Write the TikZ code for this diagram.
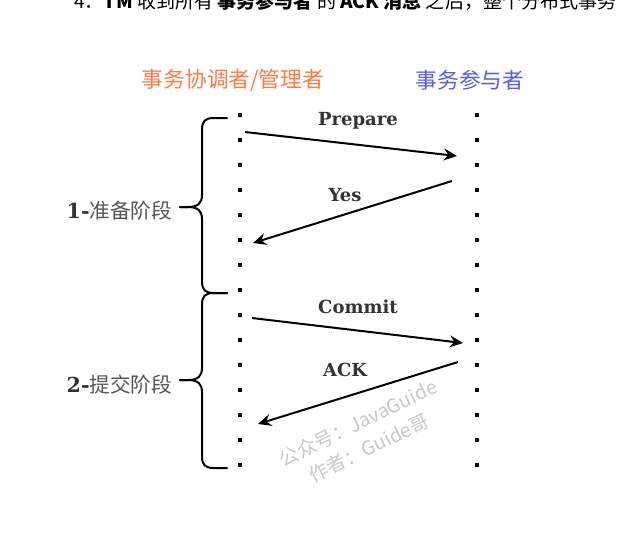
\documentclass[tikz,border=0pt]{standalone}
\usepackage{fontspec}
\setmainfont{DejaVu Serif}
\newfontfamily\cjk{Noto Sans CJK SC}
\usetikzlibrary{arrows.meta}

\definecolor{tmcolor}{HTML}{FF7A45}
\definecolor{rmcolor}{HTML}{5A5AF5}
\definecolor{ink}{HTML}{333333}
\definecolor{cjkgray}{HTML}{555555}
\definecolor{markgray}{HTML}{C8C8C8}

\tikzset{
  lifeline/.style={line width=3pt, dash pattern=on 3pt off 15.75pt},
  msg/.style={line width=1.5pt, -{Stealth[length=10pt,width=9pt,inset=3.5pt]}},
  msglabel/.style={font=\fontsize{13.5}{16}\selectfont\bfseries, text=ink},
  role/.style={font=\cjk\fontsize{16.3}{19}\selectfont},
  phase/.style={anchor=east, font=\fontsize{15.5}{18}\selectfont, text=ink},
  curly/.style={line width=1.5pt, line cap=round},
  watermark/.style={font=\cjk\fontsize{14.5}{17}\selectfont, text=markgray, rotate=26}
}

\begin{document}
\begin{tikzpicture}[x=0.75pt, y=-0.75pt]
        \useasboundingbox (0,0) rectangle (635,537);
        \clip (0,0) rectangle (635,537);
        % cut-off line of the page text above the figure
        \node[anchor=base west, inner sep=0pt, font=\cjk\fontsize{14.3}{16}\selectfont] (intro) at (74,8)
          {4．\textbf{TM} 收到所有 \textbf{事务参与者} 的 \textbf{ACK 消息} 之后，整个分布式事务};
        % roles
        \node[role, text=tmcolor] (tm) at (233,80) {事务协调者/管理者};
        \node[role, text=rmcolor] (rm) at (470,80) {事务参与者};
        % lifelines
        \coordinate (tmtop) at (240,113);
        \coordinate (tmbot) at (240,467);
        \coordinate (rmtop) at (477,113);
        \coordinate (rmbot) at (477,467);
        \draw[lifeline] (tmtop)--(tmbot);
        \draw[lifeline] (rmtop)--(rmbot);
        % messages
        \coordinate (prepS) at (245,132);
        \coordinate (prepE) at (457,156);
        \coordinate (yesS) at (452,181);
        \coordinate (yesE) at (253,243);
        \coordinate (comS) at (252,318);
        \coordinate (comE) at (463,343);
        \coordinate (ackS) at (458,362);
        \coordinate (ackE) at (258,424);
        \draw[msg](prepS)--(prepE);
        \draw[msg](yesS)--(yesE);
        \draw[msg](comS)--(comE);
        \draw[msg](ackS)--(ackE);
        \node[msglabel] (prepare) at (358,121) {Prepare};
        \node[msglabel] (yes) at (345,195) {Yes};
        \node[msglabel] (commit) at (358,307) {Commit};
        \node[msglabel] (ack) at (345,370) {ACK};
        % phase braces
        \draw[curly](227,118)--(214,118) .. controls (205,118) and (202,121) .. (202,130)--(202,195)
          .. controls (202,203) and (198,207) .. (188,207)--(180,207);
        \draw[curly](180,207)--(188,207) .. controls (198,207) and (202,211) .. (202,219)--(202,281)
          .. controls (202,290) and (205,293) .. (214,293)--(227,293);
        \draw[curly](227,293)--(214,293) .. controls (205,293) and (202,296) .. (202,305)--(202,368)
          .. controls (202,376) and (198,380) .. (188,380)--(180,380);
        \draw[curly](180,380)--(188,380) .. controls (198,380) and (202,384) .. (202,392)--(202,456)
          .. controls (202,465) and (205,468) .. (214,468)--(227,468);
        \node[phase] (phase1) at (177,211) {\textbf{1-}{\cjk\color{cjkgray}准备阶段}};
        \node[phase] (phase2) at (177,385) {\textbf{2-}{\cjk\color{cjkgray}提交阶段}};
        % watermark
        \node[watermark] (mark1) at (358,423) {公众号：JavaGuide};
        \node[watermark] (mark2) at (369,448) {作者：Guide哥};
      \end{tikzpicture}
\end{document}
